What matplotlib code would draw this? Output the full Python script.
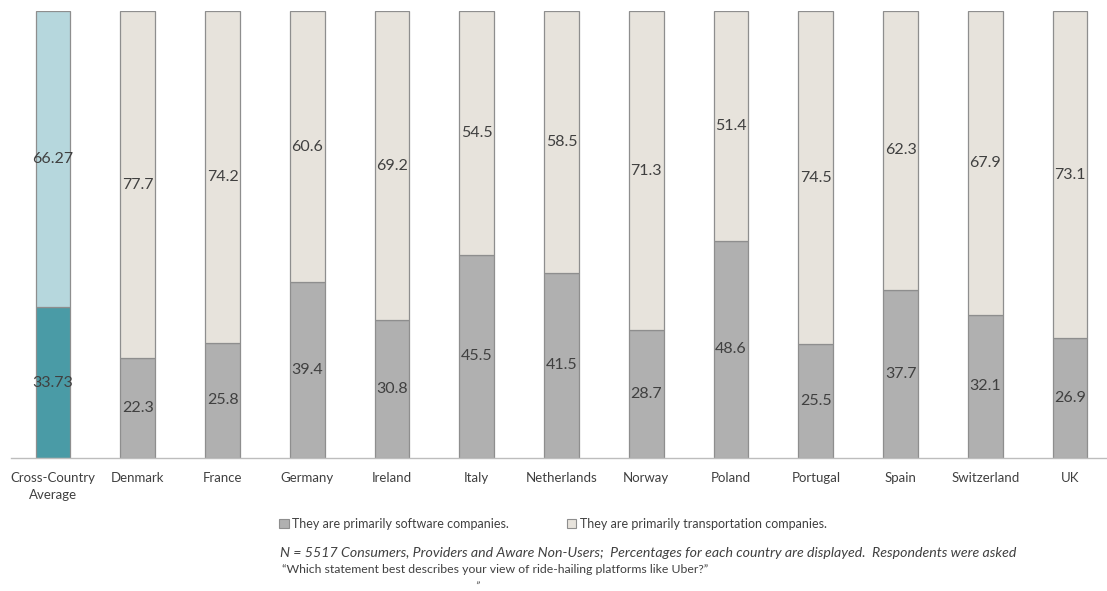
import matplotlib
matplotlib.use("Agg")
import matplotlib.pyplot as plt
from matplotlib.patches import Patch

plt.rcParams["font.family"] = ["Lato", "DejaVu Sans"]

categories = ["Cross-Country\nAverage", "Denmark", "France", "Germany", "Ireland", "Italy",
              "Netherlands", "Norway", "Poland", "Portugal", "Spain", "Switzerland", "UK"]
software = [33.73, 22.3, 25.8, 39.4, 30.8, 45.5, 41.5, 28.7, 48.6, 25.5, 37.7, 32.1, 26.9]
transport = [66.27, 77.7, 74.2, 60.6, 69.2, 54.5, 58.5, 71.3, 51.4, 74.5, 62.3, 67.9, 73.1]
labels_sw = ["33.73", "22.3", "25.8", "39.4", "30.8", "45.5", "41.5", "28.7", "48.6", "25.5", "37.7", "32.1", "26.9"]
labels_tr = ["66.27", "77.7", "74.2", "60.6", "69.2", "54.5", "58.5", "71.3", "51.4", "74.5", "62.3", "67.9", "73.1"]

sw_col = ["#4a9ba6"] + ["#b0b0b0"] * 12
tr_col = ["#b6d7dd"] + ["#e7e3dc"] * 12
edge = "#8e8e8e"

fig = plt.figure(figsize=(11.07, 5.91), dpi=100)
ax = fig.add_axes([0.0096, 0.225, 0.99, 0.756])

x = list(range(len(categories)))
width = 0.41
b1 = ax.bar(x, software, width, color=sw_col, edgecolor=edge, linewidth=0.9)
b2 = ax.bar(x, transport, width, bottom=software, color=tr_col, edgecolor=edge, linewidth=0.9)
ax.bar_label(b1, labels=labels_sw, label_type="center", fontsize=11.5, color="#404040")
ax.bar_label(b2, labels=labels_tr, label_type="center", fontsize=11.5, color="#404040")

ax.set_xlim(-0.5, 12.43)
ax.set_ylim(0, 100)
ax.set_xticks(x)
ax.set_xticklabels(categories, fontsize=9.5, color="#404040", linespacing=1.55)
ax.tick_params(axis="x", length=0, pad=10)
ax.set_yticks([])
for s in ["top", "right", "left"]:
    ax.spines[s].set_visible(False)
ax.spines["bottom"].set_color("#bdbdbd")
ax.spines["bottom"].set_linewidth(1.0)

handles = [Patch(facecolor="#b0b0b0", edgecolor=edge, linewidth=0.8),
           Patch(facecolor="#e7e3dc", edgecolor=edge, linewidth=0.8)]
fig.legend(handles, ["They are primarily software companies.", "They are primarily transportation companies."],
           loc="center", bbox_to_anchor=(0.4996, 0.113), ncol=2, frameon=False, fontsize=9,
           handlelength=0.75, handleheight=0.75, handletextpad=0.3, columnspacing=4.6,
           labelcolor="#404040")

fig.text(0.253, 0.064, "N = 5517 Consumers, Providers and Aware Non-Users;  Percentages for each country are displayed.  Respondents were asked",
         fontsize=10.2, style="italic", color="#404040", va="center")
fig.text(0.255, 0.037, "\u201cWhich statement best describes your view of ride-hailing platforms like Uber?\u201d",
         fontsize=8.8, color="#404040", va="center")
fig.text(0.429, 0.008, "\u201d", fontsize=8, style="italic", color="#404040", va="center")

fig.savefig("out.png", dpi=100)
